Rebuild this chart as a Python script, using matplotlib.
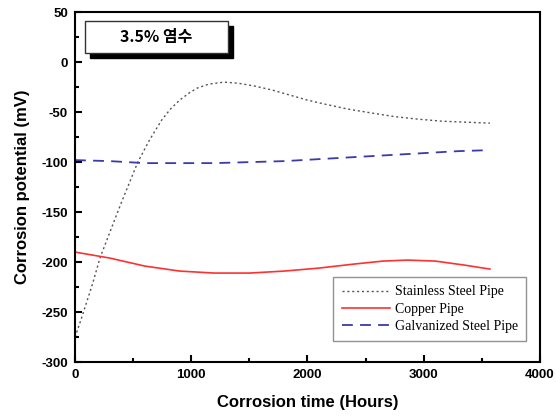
import matplotlib
matplotlib.use("Agg")
import matplotlib.pyplot as plt
from matplotlib.patches import Rectangle
from matplotlib.ticker import MultipleLocator

plt.rcParams["axes.unicode_minus"] = False

stainless_t = [0, 50, 100, 150, 214, 300, 400, 470, 540, 640, 745, 820, 900, 980, 1050, 1150, 1280,
               1400, 1550, 1700, 1850, 2000, 2150, 2350, 2560, 2750, 2950, 3150, 3350, 3570]
stainless_v = [-275, -258, -240, -222, -196, -170, -140, -120, -100, -78, -58, -47, -38, -31, -26, -22, -20,
               -21, -24, -28, -33, -38, -42, -47, -51, -54.5, -57, -59, -60, -61]
copper_t = [0, 300, 600, 900, 1200, 1500, 1800, 2100, 2400, 2650, 2860, 3100, 3350, 3570]
copper_v = [-190, -196, -204, -209, -211, -211, -209, -206, -202, -199, -198, -199, -203, -207]
galv_t = [0, 300, 600, 900, 1200, 1500, 1800, 2100, 2400, 2700, 3000, 3300, 3570]
galv_v = [-98, -99, -101, -101, -101, -100, -99, -97, -95, -93, -91, -89, -88]

fig = plt.figure(figsize=(5.56, 4.2), dpi=100)
ax = fig.add_axes([0.135, 0.138, 0.836, 0.833])

ax.plot(stainless_t, stainless_v, color="#555555", linestyle=(0, (1.5, 2)), lw=1.0, label="Stainless Steel Pipe")
ax.plot(copper_t, copper_v, color="#ff3030", linestyle="-", lw=1.2, label="Copper Pipe")
ax.plot(galv_t, galv_v, color="#3a3aa8", linestyle=(0, (6, 4)), lw=1.3, label="Galvanized Steel Pipe")

ax.set_xlim(0, 4000)
ax.set_ylim(-300, 50)
ax.xaxis.set_major_locator(MultipleLocator(1000))
ax.xaxis.set_minor_locator(MultipleLocator(500))
ax.yaxis.set_major_locator(MultipleLocator(50))
ax.yaxis.set_minor_locator(MultipleLocator(25))
ax.tick_params(which="both", direction="in", width=1.5, top=False, right=False)
ax.tick_params(which="major", length=5, pad=5)
ax.tick_params(which="minor", length=3)
for lab in ax.get_xticklabels() + ax.get_yticklabels():
    lab.set_fontfamily("Liberation Sans")
    lab.set_fontweight("bold")
    lab.set_fontsize(9.5)
for s in ax.spines.values():
    s.set_linewidth(1.5)

ax.set_xlabel("Corrosion time (Hours)", fontfamily="Liberation Sans", fontweight="bold", fontsize=12, labelpad=10)
ax.set_ylabel("Corrosion potential (mV)", fontfamily="Liberation Sans", fontweight="bold", fontsize=12, labelpad=8)

leg = ax.legend(loc="lower right", bbox_to_anchor=(0.985, 0.04), prop={"family": "Liberation Serif", "size": 10},
                frameon=True, fancybox=False, edgecolor="#777777", handlelength=3.5, handletextpad=0.3,
                borderpad=0.6, labelspacing=0.3)
leg.get_frame().set_linewidth(1.0)

# title box with shadow (axes coords)
x0, y0, w, h = 0.021, 0.883, 0.308, 0.091
ax.add_patch(Rectangle((x0 + 0.011, y0 - 0.014), w, h, transform=ax.transAxes, facecolor="black", edgecolor="black", zorder=5))
ax.add_patch(Rectangle((x0, y0), w, h, transform=ax.transAxes, facecolor="white", edgecolor="#333333", lw=1.0, zorder=6))
ax.text(x0 + w / 2, y0 + h / 2, "3.5% 염수", transform=ax.transAxes, ha="center", va="center",
        fontsize=11.5, fontweight="bold", family=["Noto Sans CJK KR", "DejaVu Sans"], zorder=7)

fig.savefig("out.png", dpi=100)
